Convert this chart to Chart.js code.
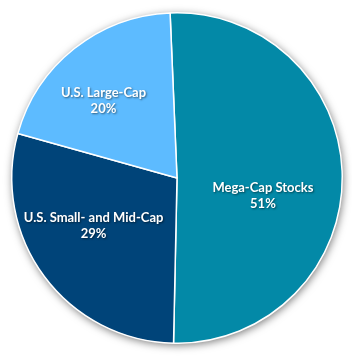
<!DOCTYPE html>
<html>
<head>
<meta charset="utf-8">
<script src="https://cdn.jsdelivr.net/npm/chart.js@4"></script>
<style>
html,body{margin:0;padding:0;background:#fff;}
#wrap{width:352px;height:358px;position:relative;}
</style>
</head>
<body>
<div id="wrap"><canvas id="c" width="352" height="358"></canvas></div>
<script>
const categories = ["Mega-Cap Stocks", "U.S. Small- and Mid-Cap", "U.S. Large-Cap"];
const values = [51, 29, 20];
const percentLabels = ["51%", "29%", "20%"];
const colors = ["#0389a7", "#004479", "#5dbbff"];
// label placement as fractions of radius (x, y) from pie centre
const labelOffsetX = [0.52, -0.505, -0.445];
const labelOffsetY = [0.105, 0.29, -0.47];

const shadowPlugin = {
  id: 'pieShadow',
  beforeDatasetsDraw(chart) {
    const arc = chart.getDatasetMeta(0).data[0];
    if (!arc) return;
    const ctx = chart.ctx;
    ctx.save();
    ctx.shadowColor = 'rgba(0,0,0,0.55)';
    ctx.shadowBlur = 9;
    ctx.shadowOffsetX = 1;
    ctx.shadowOffsetY = 2;
    ctx.beginPath();
    ctx.arc(arc.x, arc.y, arc.outerRadius, 0, Math.PI * 2);
    ctx.fillStyle = '#ffffff';
    ctx.fill();
    ctx.restore();
  }
};

const labelPlugin = {
  id: 'sliceLabels',
  afterDatasetsDraw(chart) {
    const meta = chart.getDatasetMeta(0);
    const ctx = chart.ctx;
    ctx.save();
    ctx.font = 'bold 13px Lato, "Open Sans", sans-serif';
    ctx.textAlign = 'center';
    ctx.textBaseline = 'middle';
    ctx.fillStyle = '#ffffff';
    ctx.shadowColor = 'rgba(0,0,0,0.5)';
    ctx.shadowBlur = 2;
    ctx.shadowOffsetX = 1;
    ctx.shadowOffsetY = 1;
    meta.data.forEach((arc, i) => {
      const r = arc.outerRadius;
      const x = arc.x + labelOffsetX[i] * r;
      const y = arc.y + labelOffsetY[i] * r;
      ctx.fillText(categories[i], x, y - 8);
      ctx.fillText(percentLabels[i], x, y + 8);
    });
    ctx.restore();
  }
};

new Chart(document.getElementById('c'), {
  type: 'pie',
  data: {
    labels: categories,
    datasets: [{
      data: values,
      backgroundColor: colors,
      borderColor: '#ffffff',
      borderWidth: 1.5
    }]
  },
  options: {
    responsive: false,
    animation: false,
    rotation: -2.4,
    layout: { padding: { left: 11, right: 9, top: 12, bottom: 14 } },
    plugins: {
      legend: { display: false },
      tooltip: { enabled: false }
    }
  },
  plugins: [shadowPlugin, labelPlugin]
});
</script>
</body>
</html>
